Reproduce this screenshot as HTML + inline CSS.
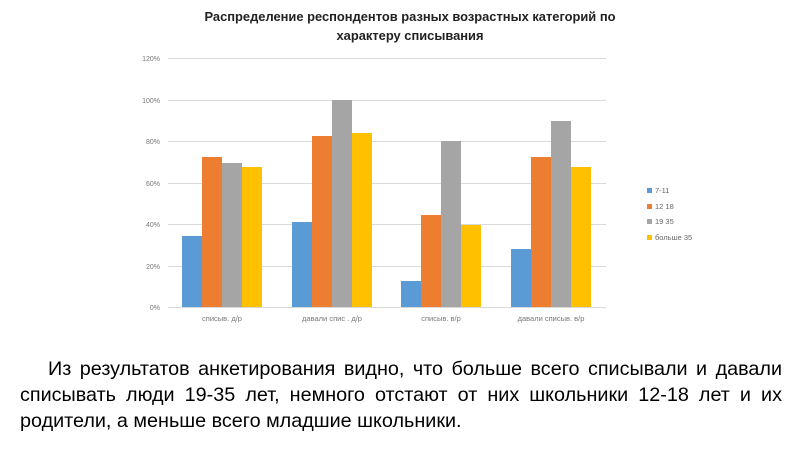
<!DOCTYPE html>
<html><head><meta charset="utf-8"><style>
body{margin:0;width:800px;height:450px;background:#fff;overflow:hidden;position:relative;font-family:"Liberation Sans","DejaVu Sans",sans-serif}
.l{position:absolute;font-size:19.8px;line-height:26px;color:#000;white-space:nowrap}
.j{text-align:justify;text-align-last:justify;white-space:normal}
</style></head><body>
<svg width="800" height="450" style="position:absolute;left:0;top:0" font-family="Liberation Sans, DejaVu Sans, sans-serif">
<text x="410" y="21" text-anchor="middle" font-size="12.9" font-weight="bold" fill="#222">Распределение респондентов разных возрастных категорий по</text>
<text x="410" y="40" text-anchor="middle" font-size="12.9" font-weight="bold" fill="#222">характеру  списывания</text>
<g stroke="#d9d9d9" stroke-width="1">
<line x1="168" x2="606" y1="58.5" y2="58.5"/><line x1="168" x2="606" y1="100.5" y2="100.5"/><line x1="168" x2="606" y1="141.5" y2="141.5"/><line x1="168" x2="606" y1="183.5" y2="183.5"/><line x1="168" x2="606" y1="224.5" y2="224.5"/><line x1="168" x2="606" y1="266.5" y2="266.5"/><line x1="168" x2="606" y1="307.5" y2="307.5"/>
</g>
<g font-size="7" fill="#777" text-anchor="end">
<text x="160" y="61">120%</text><text x="160" y="103">100%</text><text x="160" y="144">80%</text><text x="160" y="186">60%</text><text x="160" y="227">40%</text><text x="160" y="269">20%</text><text x="160" y="310">0%</text>
</g>
<g>
<rect x="182" y="236" width="20" height="71" fill="#5b9bd5"/><rect x="202" y="157" width="20" height="150" fill="#ed7d31"/><rect x="222" y="163" width="20" height="144" fill="#a5a5a5"/><rect x="242" y="167" width="20" height="140" fill="#ffc000"/>
<rect x="292" y="222" width="20" height="85" fill="#5b9bd5"/><rect x="312" y="136" width="20" height="171" fill="#ed7d31"/><rect x="332" y="100" width="20" height="207" fill="#a5a5a5"/><rect x="352" y="133" width="20" height="174" fill="#ffc000"/>
<rect x="401" y="281" width="20" height="26" fill="#5b9bd5"/><rect x="421" y="215" width="20" height="92" fill="#ed7d31"/><rect x="441" y="141" width="20" height="166" fill="#a5a5a5"/><rect x="461" y="225" width="20" height="82" fill="#ffc000"/>
<rect x="511" y="249" width="20" height="58" fill="#5b9bd5"/><rect x="531" y="157" width="20" height="150" fill="#ed7d31"/><rect x="551" y="121" width="20" height="186" fill="#a5a5a5"/><rect x="571" y="167" width="20" height="140" fill="#ffc000"/>
</g>
<g font-size="7.5" fill="#777" text-anchor="middle">
<text x="222" y="321">списыв. д/р</text><text x="332" y="321">давали спис . д/р</text><text x="441" y="321">списыв. в/р</text><text x="551" y="321">давали списыв. в/р</text>
</g>
<g font-size="7.5" fill="#666">
<rect x="647" y="188" width="5" height="5" fill="#5b9bd5"/><text x="655" y="193">7-11</text>
<rect x="647" y="204" width="5" height="5" fill="#ed7d31"/><text x="655" y="209"> 12 18</text>
<rect x="647" y="219" width="5" height="5" fill="#a5a5a5"/><text x="655" y="224">19 35</text>
<rect x="647" y="235" width="5" height="5" fill="#ffc000"/><text x="655" y="240">больше 35</text>
</g>
</svg>
<div class="l j" style="left:48px;width:734px;top:356px">Из результатов анкетирования видно, что больше всего списывали и давали</div>
<div class="l j" style="left:20px;width:762px;top:382px">списывать люди 19-35 лет, немного отстают от них школьники 12-18 лет и их</div>
<div class="l" style="left:20px;top:408px">родители, а меньше всего младшие школьники.</div>
</body></html>
